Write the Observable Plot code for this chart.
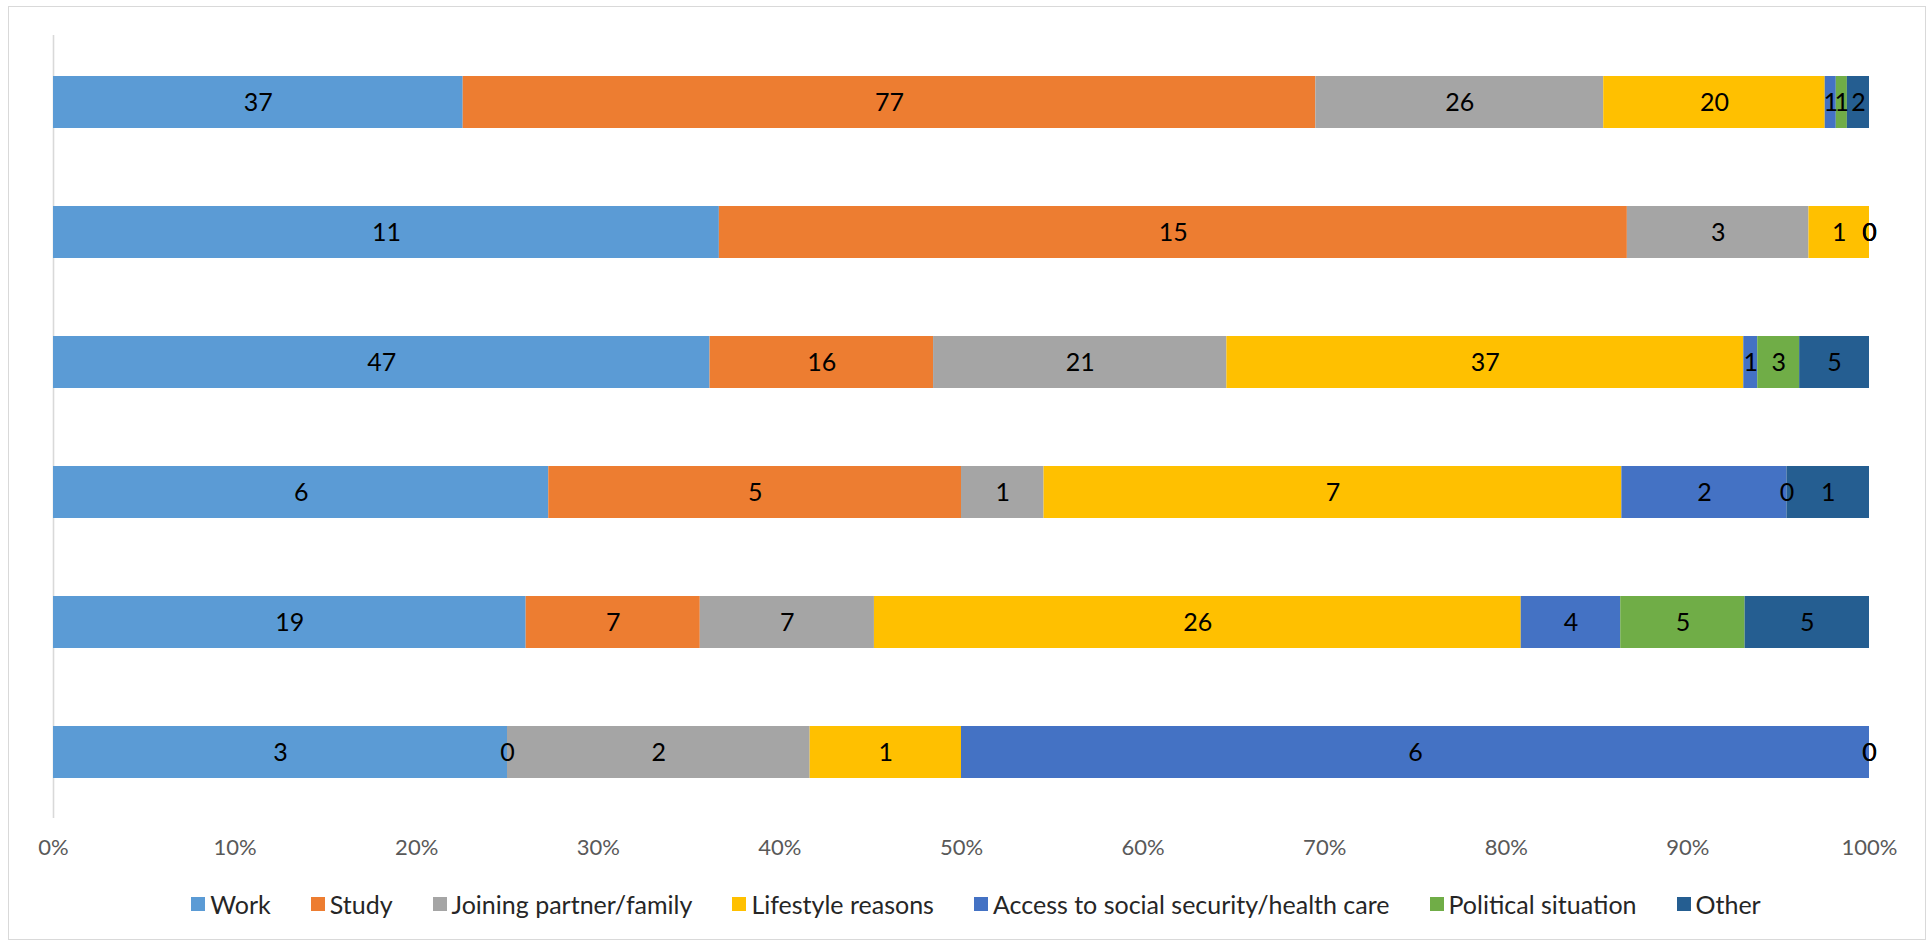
<!DOCTYPE html>
<html><head><meta charset="utf-8">
<script src="https://cdn.jsdelivr.net/npm/d3@7"></script>
<script src="https://cdn.jsdelivr.net/npm/@observablehq/plot@0.6"></script>
<style>
body{margin:0;background:#fff;font-family:Lato,sans-serif;}
#frame{position:absolute;left:8px;top:6px;width:1918px;height:934px;border:1px solid #d9d9d9;box-sizing:border-box;}
#chart{position:absolute;left:0;top:0;}
#legend{position:absolute;top:889px;left:12px;width:1928px;display:flex;justify-content:center;gap:40px;font-size:25px;line-height:30px;color:#262626;}
#legend .item{display:flex;align-items:center;gap:5px;white-space:nowrap;}
#legend .sw{width:14px;height:14px;display:inline-block;}
</style>
</head><body>
<div id="frame"></div>
<div id="chart"></div>
<div id="legend"></div>
<script>
const categories = ["Work","Study","Joining partner/family","Lifestyle reasons","Access to social security/health care","Political situation","Other"];
const colors = ["#5B9BD5","#ED7D31","#A5A5A5","#FFC000","#4472C4","#70AD47","#255E91"];
const rows = ["1","2","3","4","5","6"];
const work = [37,11,47,6,19,3];
const study = [77,15,16,5,7,0];
const joining = [26,3,21,1,7,2];
const lifestyle = [20,1,37,7,26,1];
const access = [1,0,1,2,4,6];
const political = [1,0,3,0,5,0];
const other = [2,0,5,1,5,0];
const xTicks = [0,10,20,30,40,50,60,70,80,90,100];

const series = [work,study,joining,lifestyle,access,political,other];
const data = [];
rows.forEach((r,i)=>{
  categories.forEach((c,j)=>{
    data.push({row:r, category:c, value:series[j][i]});
  });
});

const font = 'Lato,sans-serif';
const stackOpts = {x:"value", y:"row", z:"category", offset:"normalize", order:categories};

const plot = Plot.plot({
  width:1928, height:880,
  marginLeft:53, marginRight:59, marginTop:35, marginBottom:62,
  style:{fontFamily:font, background:"transparent"},
  x:{domain:[0,100], percent:true, axis:null},
  y:{domain:rows, paddingInner:0.6, paddingOuter:0.3, axis:null},
  color:{domain:categories, range:colors},
  marks:[
    Plot.gridX(xTicks, {stroke:"#d9d9d9", strokeOpacity:1, strokeWidth:1.6}),
    Plot.barX(data, Plot.stackX({...stackOpts, fill:"category"})),
    Plot.text(data, Plot.stackX({...stackOpts, text:"value", fill:"#000", fontSize:25, textAnchor:"middle"})),
    Plot.axisX({ticks:xTicks, tickSize:0, tickPadding:21, label:null, tickFormat:d=>d+"%", fontSize:22, fill:"#595959", color:"#595959"})
  ]
});
document.getElementById("chart").appendChild(plot);

const legend = document.getElementById("legend");
categories.forEach((c,j)=>{
  const it = document.createElement("div"); it.className="item";
  const sw = document.createElement("span"); sw.className="sw"; sw.style.background=colors[j];
  const t = document.createElement("span"); t.textContent=c;
  it.appendChild(sw); it.appendChild(t); legend.appendChild(it);
});
</script>
</body></html>
